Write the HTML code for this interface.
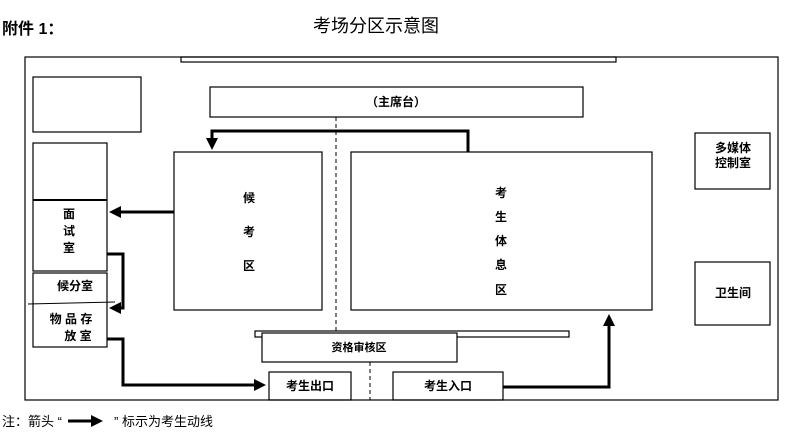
<!DOCTYPE html>
<html><head><meta charset="utf-8"><style>
body{margin:0;background:#fff}
svg text{font-family:"Liberation Sans","Noto Sans CJK SC",sans-serif;}
</style></head><body>
<svg width="786" height="440" viewBox="0 0 786 440" xmlns="http://www.w3.org/2000/svg">
<defs><marker id="a" markerWidth="4" markerHeight="4" refX="3" refY="2" orient="auto" markerUnits="strokeWidth"><path d="M0,0 L4,2 L0,4z" fill="#000"/></marker></defs>
<text x="2" y="34" font-size="16" font-weight="bold">附件 1：</text>
<text x="313" y="32" font-size="18">考场分区示意图</text>
<g fill="none" stroke="#000" stroke-width="1.2">
<rect x="25" y="57" width="753" height="343"/>
<rect x="181" y="57" width="435" height="5"/>
<rect x="33" y="77" width="108" height="55"/>
<rect x="33" y="143" width="74" height="57"/>
<rect x="33" y="200" width="74" height="71"/>
<rect x="33" y="273" width="74" height="74"/>
<line x1="28" y1="304" x2="115" y2="302" stroke-width="1"/>
<rect x="210" y="87" width="373" height="30"/>
<rect x="174" y="152" width="148" height="158"/>
<rect x="351" y="152" width="301" height="158"/>
<rect x="255" y="331" width="314" height="6"/>
<rect x="262" y="333" width="195" height="29" fill="#fff"/>
<rect x="269" y="372" width="82" height="28"/>
<rect x="393" y="372" width="110" height="28"/>
<rect x="695" y="133" width="75" height="56"/>
<rect x="695" y="262" width="75" height="63"/>
</g>
<line x1="33" y1="200" x2="107" y2="200" stroke="#000" stroke-width="2"/>
<line x1="336" y1="117" x2="336" y2="331" stroke="#000" stroke-dasharray="4,3"/>
<line x1="370" y1="362" x2="370" y2="400" stroke="#000" stroke-dasharray="4,3"/>
<g fill="none" stroke="#000" stroke-width="3" marker-end="url(#a)">
<polyline points="468,152 468,131 212,131 212,147"/>
<polyline points="174,212 112,212"/>
<polyline points="107,254 123,254 123,308 112,308"/>
<polyline points="107,339 123,339 123,385 263,385"/>
<polyline points="503,387 609,387 609,317"/>
</g>
<g font-size="12" font-weight="bold" text-anchor="middle">
<text x="396" y="106">（主席台）</text>
<text x="249" y="202">候</text><text x="249" y="236">考</text><text x="249" y="270">区</text>
<text x="501" y="197">考</text><text x="501" y="221">生</text><text x="501" y="245">体</text><text x="501" y="269">息</text><text x="501" y="294">区</text>
<text x="69" y="218">面</text><text x="69" y="235">试</text><text x="69" y="252">室</text>
<text x="75" y="290">候分室</text>
<text x="71" y="323">物 品 存</text><text x="78" y="340">放 室</text>
<text x="359" y="351" font-size="11">资格审核区</text>
<text x="310" y="390">考生出口</text>
<text x="448" y="390">考生入口</text>
<text x="733" y="152">多媒体</text><text x="733" y="167">控制室</text>
<text x="733" y="297">卫生间</text>
</g>
<text x="2" y="426" font-size="13">注：箭头 “</text>
<line x1="68" y1="421" x2="100" y2="421" stroke="#000" stroke-width="3" marker-end="url(#a)"/>
<text x="114" y="426" font-size="13">” 标示为考生动线</text>
</svg>
</body></html>
